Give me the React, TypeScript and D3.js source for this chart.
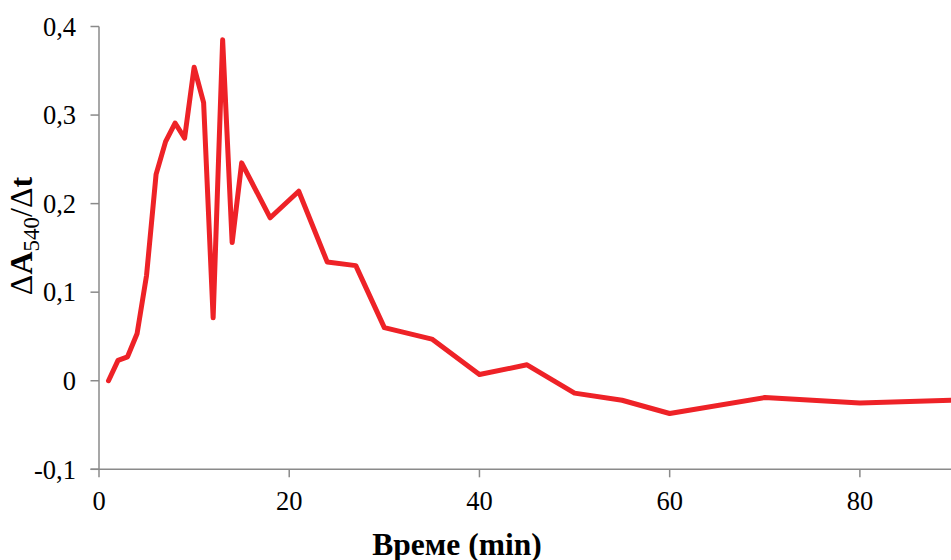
import React from "react";
import * as d3 from "d3";

const times = [1, 2, 3, 4, 5, 6, 7, 8, 9, 10, 11, 12, 13, 14, 15, 18, 21, 24, 27, 30, 35, 40, 45, 50, 55, 60, 70, 80, 90];
const values = [0, 0.023, 0.027, 0.053, 0.119, 0.233, 0.27, 0.291, 0.274, 0.354, 0.314, 0.071, 0.385, 0.156, 0.246, 0.184, 0.214, 0.134, 0.13, 0.06, 0.047, 0.007, 0.018, -0.014, -0.022, -0.037, -0.019, -0.025, -0.022];
const xTicks = [0, 20, 40, 60, 80];
const yTicks = [-0.1, 0, 0.1, 0.2, 0.3, 0.4];
const xLabel = "Време (min)";

const W = 951;
const H = 560;

function fmtY(v: number) {
  if (Math.abs(v) < 1e-9) return "0";
  const s = Math.abs(v).toFixed(1).replace(".", ",");
  return (v < 0 ? "-" : "") + s;
}

const font = "'Liberation Serif', 'Times New Roman', Times, serif";
const tStyle: React.CSSProperties = { fontFamily: font };

export default function App() {
  const x = d3.scaleLinear().domain([0, 90]).range([99, 955]);
  const y = d3.scaleLinear().domain([-0.1, 0.4]).range([469.3, 26.5]);
  const pts = times.map((t, i) => [t, values[i]] as [number, number]);
  const line = d3
    .line<[number, number]>()
    .x((d) => x(d[0]))
    .y((d) => y(d[1]));
  const axisColor = "#8a8a8a";
  const x0 = x(0);
  const yBase = y(-0.1);
  return (
    <svg
      width={W}
      height={H}
      style={{ position: "absolute", left: 0, top: 0, background: "#fff", fontFamily: font }}
    >
      <rect width={W} height={H} fill="#fff" />
      {/* y axis */}
      <line x1={x0} x2={x0} y1={y(0.4)} y2={yBase} stroke={axisColor} strokeWidth={1.5} />
      {yTicks.map((t) => (
        <g key={"y" + t}>
          <line x1={x0 - 8.5} x2={x0} y1={y(t)} y2={y(t)} stroke={axisColor} strokeWidth={1.5} />
          <text x={76} y={y(t)} dy="0.35em" textAnchor="end" fontSize={26.5} fill="#000" style={tStyle}>
            {fmtY(t)}
          </text>
        </g>
      ))}
      {/* x axis */}
      <line x1={x0 - 8.5} x2={W} y1={yBase} y2={yBase} stroke={axisColor} strokeWidth={1.5} />
      {xTicks.map((t) => (
        <g key={"x" + t}>
          <line x1={x(t)} x2={x(t)} y1={yBase} y2={yBase + 8} stroke={axisColor} strokeWidth={1.5} />
          <text x={x(t)} y={510} textAnchor="middle" fontSize={26.5} fill="#000" style={tStyle}>
            {t}
          </text>
        </g>
      ))}
      {/* data line */}
      <path
        d={line(pts) || ""}
        fill="none"
        stroke="#ee2227"
        strokeWidth={5}
        strokeLinejoin="round"
        strokeLinecap="round"
      />
      {/* x label */}
      <text x={457} y={555} textAnchor="middle" fontSize={31.5} fontWeight="bold" fill="#000" style={tStyle}>
        {xLabel}
      </text>
      {/* y label */}
      <text transform="translate(32,236) rotate(-90)" textAnchor="middle" fontSize={32} fill="#000" style={tStyle}>
        <tspan>Δ</tspan>
        <tspan fontWeight="bold">A</tspan>
        <tspan fontSize={23} dy={7}>540</tspan>
        <tspan dy={-7}>/Δ</tspan>
        <tspan fontWeight="bold">t</tspan>
      </text>
    </svg>
  );
}
